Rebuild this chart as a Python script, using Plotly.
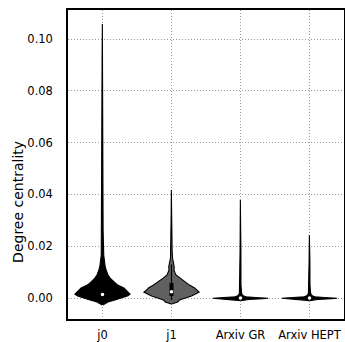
import plotly.graph_objects as go

# Categories
categories = ["j0", "j1", "Arxiv GR", "Arxiv HEPT"]

# Violin outlines: value levels and half-widths (category units)
j0_levels = [-0.0027, -0.0015, -0.0008, 0.0, 0.0008, 0.0015, 0.0027, 0.0039, 0.0050,
             0.0062, 0.0077, 0.0089, 0.0108, 0.0127, 0.0166, 0.026, 0.057, 0.092, 0.1058]
j0_widths = [0.004, 0.08, 0.18, 0.28, 0.36, 0.40, 0.36, 0.31, 0.22,
             0.165, 0.11, 0.08, 0.052, 0.036, 0.018, 0.009, 0.007, 0.006, 0.002]

j1_levels = [-0.0023, -0.0015, -0.0008, 0.0008, 0.0023, 0.0031, 0.0039, 0.0050, 0.0058,
             0.0069, 0.0077, 0.0089, 0.0097, 0.0108, 0.0120, 0.0135, 0.0154, 0.0185,
             0.0301, 0.0417]
j1_widths = [0.004, 0.09, 0.115, 0.29, 0.40, 0.36, 0.335, 0.26, 0.22,
             0.16, 0.12, 0.065, 0.052, 0.036, 0.040, 0.030, 0.015, 0.009,
             0.006, 0.002]

gr_levels = [-0.0010, -0.0006, -0.0003, -0.0001, 0.0002, 0.0005, 0.0009, 0.0013,
             0.0020, 0.0030, 0.0050, 0.0185, 0.0378]
gr_widths = [0.004, 0.12, 0.32, 0.40, 0.22, 0.08, 0.04, 0.025,
             0.016, 0.011, 0.007, 0.006, 0.002]

hept_levels = [-0.0010, -0.0006, -0.0003, -0.0001, 0.0002, 0.0005, 0.0009, 0.0013,
               0.0020, 0.0030, 0.0050, 0.0140, 0.0243]
hept_widths = [0.004, 0.12, 0.32, 0.40, 0.22, 0.08, 0.04, 0.025,
               0.016, 0.011, 0.007, 0.006, 0.002]

# Inner box statistics: q1, median, q3, whisker low, whisker high
j0_box = [0.0008, 0.0014, 0.0024, -0.0008, 0.0048]
j1_box = [0.0008, 0.0024, 0.0058, -0.0008, 0.0130]
gr_box = [-0.0002, 0.0000, 0.0003, -0.0006, 0.0008]
hept_box = [-0.0002, 0.0000, 0.0003, -0.0006, 0.0008]

fill_colors = ["#000000", "#606060", "#000000", "#000000"]

y_ticks = [0.00, 0.02, 0.04, 0.06, 0.08, 0.10]

profiles = [(j0_levels, j0_widths), (j1_levels, j1_widths),
            (gr_levels, gr_widths), (hept_levels, hept_widths)]
boxes = [j0_box, j1_box, gr_box, hept_box]

fig = go.Figure()
for i, ((lv, wd), col) in enumerate(zip(profiles, fill_colors)):
    xs = [i + w for w in wd] + [i - w for w in reversed(wd)]
    ys = list(lv) + list(reversed(lv))
    fig.add_trace(go.Scatter(x=xs, y=ys, mode="lines", fill="toself",
                             fillcolor=col, line=dict(color="#000000", width=1.1),
                             hoverinfo="skip", showlegend=False))

for i, b in enumerate(boxes):
    q1, med, q3, lo, hi = b
    fig.add_trace(go.Scatter(x=[i, i], y=[lo, hi], mode="lines",
                             line=dict(color="#000000", width=1.2),
                             showlegend=False, hoverinfo="skip"))
    fig.add_trace(go.Scatter(x=[i, i], y=[q1, q3], mode="lines",
                             line=dict(color="#000000", width=4),
                             showlegend=False, hoverinfo="skip"))
    fig.add_trace(go.Scatter(x=[i], y=[med], mode="markers",
                             marker=dict(color="white", size=3.5, line=dict(width=0)),
                             showlegend=False, hoverinfo="skip"))

fig.update_layout(
    width=345, height=342,
    margin=dict(l=68, r=1, t=10, b=23),
    plot_bgcolor="white", paper_bgcolor="white",
    font=dict(family="DejaVu Sans", color="#000000", size=12),
    showlegend=False,
)
fig.update_xaxes(
    range=[-0.5, 3.5], tickmode="array", tickvals=[0, 1, 2, 3], ticktext=categories,
    showgrid=True, gridcolor="#9a9a9a", griddash="1px,2px", gridwidth=1,
    showline=True, linecolor="#000000", linewidth=1.5, mirror=True,
    ticks="", zeroline=False, tickfont=dict(size=11.5), ticklabelstandoff=4,
    automargin=False,
)
fig.update_yaxes(
    range=[-0.0081, 0.1112], tickmode="array", tickvals=y_ticks, tickformat=".2f",
    showgrid=True, gridcolor="#9a9a9a", griddash="1px,2px", gridwidth=1,
    showline=True, linecolor="#000000", linewidth=1.5, mirror=True,
    ticks="", zeroline=False, tickfont=dict(size=11.5), ticklabelstandoff=11,
    automargin=False,
)
fig.add_annotation(
    text="Degree centrality", textangle=-90, showarrow=False,
    xref="paper", yref="paper", x=0, y=0.379, xanchor="center", yanchor="middle",
    xshift=-50, font=dict(size=14),
)

fig.write_html("out.html", config={"displayModeBar": False},
               post_script="document.body.style.margin='0';")
